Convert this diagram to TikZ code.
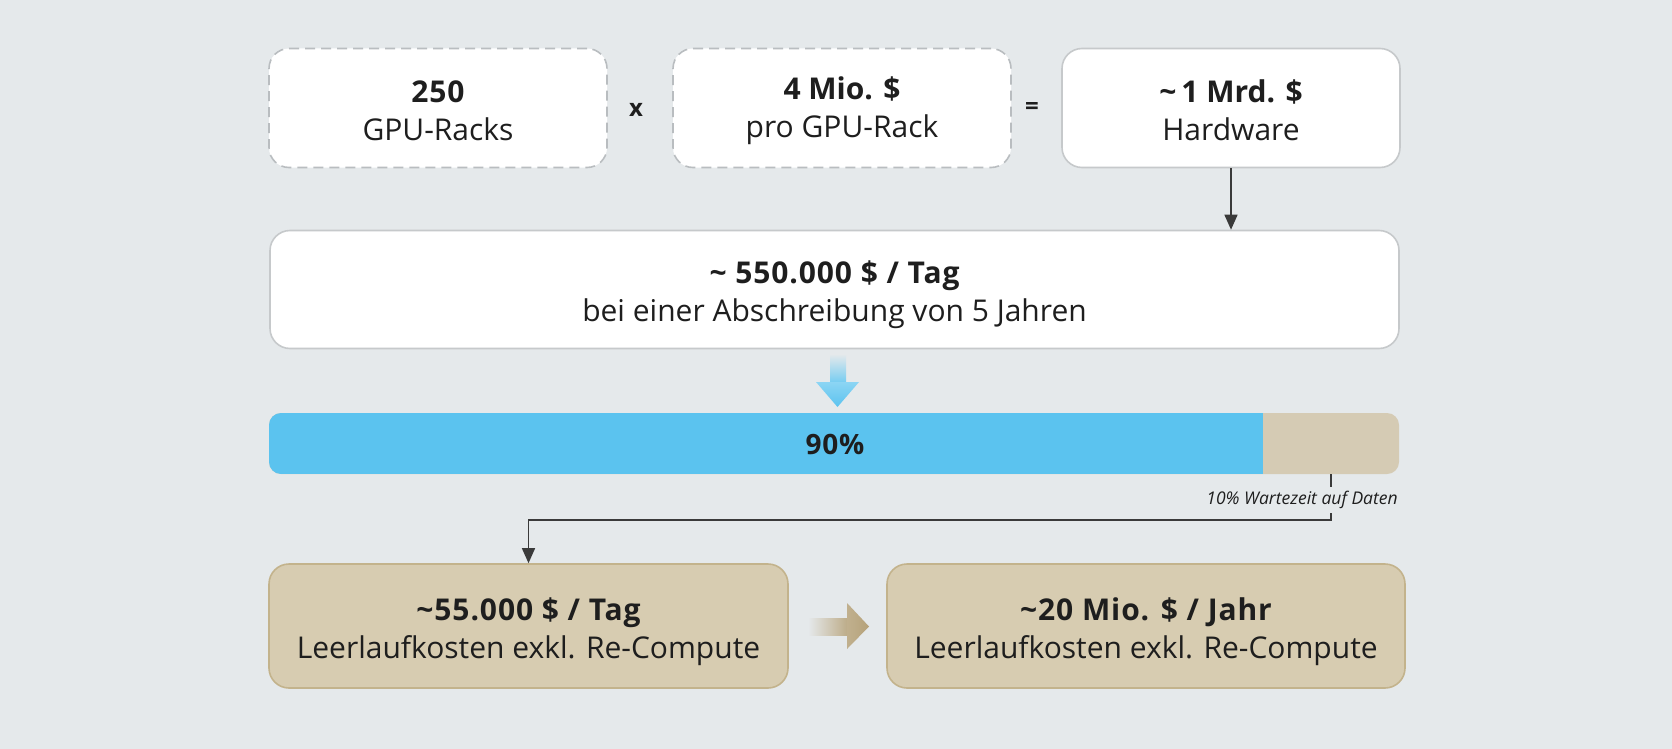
\documentclass[tikz,border=0pt]{standalone}
\usepackage{fontspec}
\setmainfont{Open Sans}
\usetikzlibrary{arrows.meta,calc}
\definecolor{bg}{HTML}{E5E9EB}
\definecolor{cardline}{HTML}{C6C9CB}
\definecolor{dashline}{HTML}{B9BDC0}
\definecolor{barblue}{HTML}{5BC3EF}
\definecolor{bartan}{HTML}{D5CBB4}
\definecolor{tanfill}{HTML}{D7CCB1}
\definecolor{tanline}{HTML}{C3B38C}
\definecolor{tanarrow}{HTML}{B5A27A}
\definecolor{ink}{HTML}{1E1E1E}
\definecolor{conn}{HTML}{3A3A3A}
\newcommand\bwide[1]{{\bfseries\addfontfeatures{LetterSpace=3}#1}}
\newcommand\lowerby[1]{\rule{0pt}{#1}}
\tikzset{
  card/.style={draw=cardline, line width=1.6pt, fill=white, rounded corners=20pt,
    align=center, inner sep=0pt, text=ink},
  dashcard/.style={card, draw=dashline, dash pattern=on 10pt off 6pt},
  tancard/.style={card, draw=tanline, fill=tanfill},
  txt/.style={font=\fontsize{30}{38}\selectfont},
  conn/.style={draw=conn, line width=1.4pt},
  tip/.style={-{Triangle[width=13pt,length=15pt]}},
  opsym/.style={font=\fontsize{24}{28}\selectfont\bfseries, text=ink}
}
\begin{document}
\begin{tikzpicture}[x=1pt,y=-1pt]
\useasboundingbox (0,0) rectangle (1672,749);
\fill[bg] (0,0) rectangle (1672,749);

% top row
\node[dashcard, txt, minimum width=338pt, minimum height=119pt] (racks) at (438,108)
  {\lowerby{28pt}\bwide{250}\\GPU-Racks};
\node[dashcard, txt, minimum width=338pt, minimum height=119pt] (price) at (842,108)
  {\lowerby{28pt}\textbf{4 Mio. \$}\\pro GPU-Rack};
\node[card, txt, minimum width=338pt, minimum height=119pt] (hw) at (1231,108)
  {\lowerby{28pt}\textbf{\char`\~\,1 Mrd. \$}\\Hardware};
\node[opsym] (times) at (636,110) {x};
\node[opsym] (equals) at (1032,108) {=};

% daily depreciation
\node[card, txt, minimum width=1129pt, minimum height=118pt] (tag) at (834.5,289.5)
  {\lowerby{34pt}\bwide{\char`\~\ 550.000 \$ / Tag}\\bei einer Abschreibung von 5 Jahren};
\draw[conn, tip] (hw.south) -- (tag.north -| hw.south);

% blue gradient arrow
\shade[top color=bg, bottom color=barblue!85] (830,354) rectangle (846,383);
\shade[top color=barblue!70, bottom color=barblue] (816,382) -- (859,382) -- (837.5,407) -- cycle;

% utilisation bar
\node[fill=bartan, rounded corners=12pt, minimum width=1130pt, minimum height=61pt, inner sep=0pt] (bar) at (834,443.5) {};
\begin{scope}
  \clip[rounded corners=12pt] (269,413) rectangle (1399,474);
  \fill[barblue] (269,413) rectangle (1263,474);
\end{scope}
\node[font=\fontsize{28}{32}\selectfont, text=ink] (pct) at (835,444) {\bwide{90\%}};

\node[font=\fontsize{17.5}{20}\selectfont\itshape, text=ink] (wait) at (1302,500) {10\% Wartezeit auf Daten};
\coordinate (tickTop) at (1331,474);
\coordinate (tickA) at (1331,487);
\coordinate (tickB) at (1331,513);
\coordinate (bend) at (1331,520);

% bottom row
\node[tancard, txt, minimum width=519pt, minimum height=124pt] (idle) at (528.5,626)
  {\lowerby{34pt}\bwide{\char`\~55.000 \$ / Tag}\\Leerlaufkosten exkl. Re-Compute};
\node[tancard, txt, minimum width=518pt, minimum height=124pt] (year) at (1146,626)
  {\lowerby{34pt}\bwide{\char`\~20 Mio. \$ / Jahr}\\Leerlaufkosten exkl. Re-Compute};

\draw[conn] (tickTop) -- (tickA);
\draw[conn, tip] (tickB) -- (bend) -| (idle.north);

% tan gradient arrow
\shade[left color=bg, right color=tanarrow!90] (808,618) rectangle (848,635);
\shade[left color=tanarrow!85, right color=tanarrow] (847,603) -- (869,626.5) -- (847,649) -- cycle;
\end{tikzpicture}
\end{document}
